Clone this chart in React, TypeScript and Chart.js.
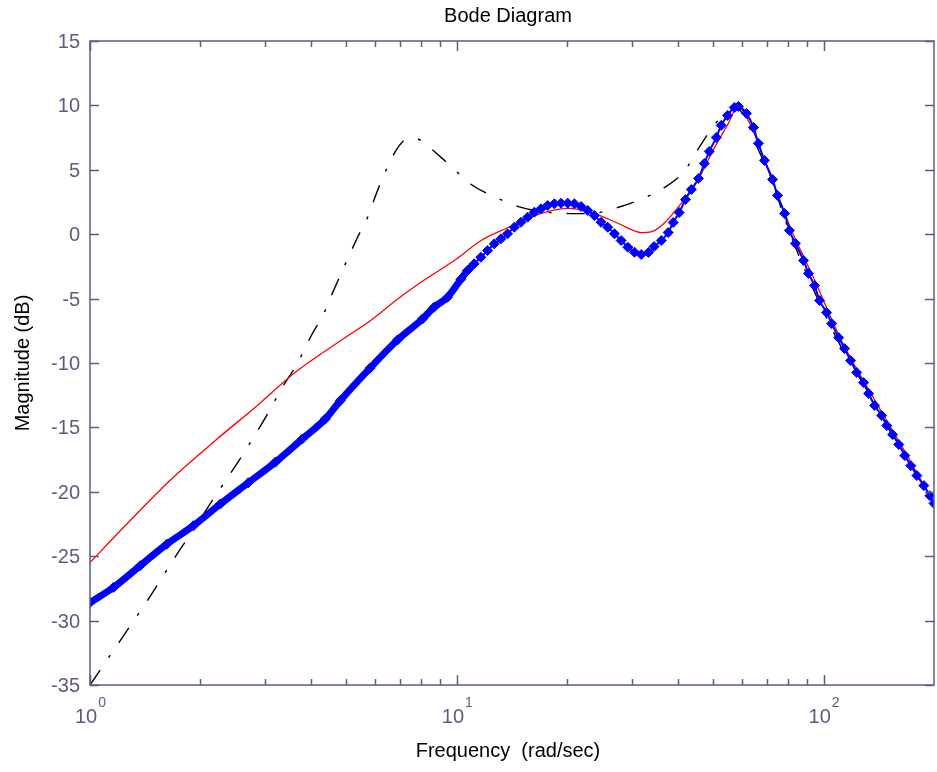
import React, { useEffect, useRef } from "react";
import { Chart, registerables } from "chart.js";

Chart.register(...registerables);

// ---------- text ----------
const TITLE = "Bode Diagram";
const X_LABEL = "Frequency  (rad/sec)";
const Y_LABEL = "Magnitude (dB)";

// ---------- axes ----------
const X_MIN = 1;
const X_MAX = 200;
const Y_MIN = -35;
const Y_MAX = 15;
const yTicks = [15, 10, 5, 0, -5, -10, -15, -20, -25, -30, -35];
const xMajorTicks = [1, 10, 100];
const xMajorBase = ["10", "10", "10"];
const xMajorExp = ["0", "1", "2"];
const xMinorTicks = [2, 3, 4, 5, 6, 7, 8, 9, 20, 30, 40, 50, 60, 70, 80, 90, 200];

// ---------- series: black dash-dot ----------
const blackW = [1, 1.26, 1.43, 1.73, 1.91, 2.13, 2.57, 3.1, 3.31, 3.68, 3.99, 4.33, 4.61, 5.36, 5.71, 6.08, 6.47, 6.9, 7.35, 7.8, 8.12, 9.45, 10.9, 12.9, 14.9, 17.7, 20.4, 23.2, 26.9, 31.1, 36.7, 41.7, 46.4, 51.5, 55, 57.6, 62, 66.5, 70.8, 78.6, 89, 110, 138, 166, 200];
const blackDb = [-35, -30.8, -28.5, -24.8, -23.0, -20.9, -17.4, -13.6, -12.1, -10.0, -8.0, -6.2, -4.4, -0.26, 1.3, 3.4, 5.2, 6.7, 7.4, 7.4, 7.1, 5.5, 3.9, 2.8, 2.1, 1.7, 1.6, 1.6, 2.0, 2.6, 3.6, 4.9, 7.0, 8.8, 9.4, 9.9, 8.6, 6.5, 4.9, 1.1, -2.8, -8.4, -13.1, -17.0, -20.9];

// ---------- series: red solid ----------
const redW = [1, 1.25, 1.654, 2.2, 2.86, 3.6, 4.82, 5.82, 7.0, 8.12, 10, 11.65, 13.8, 15.5, 17.3, 20.1, 23.7, 27.6, 31.9, 34, 36.7, 40.9, 45.4, 50.4, 55.0, 58.3, 63.6, 69, 75.4, 81.8, 94, 112, 138, 166, 200];
const redDb = [-25.5, -22.6, -19.1, -16.0, -13.3, -10.8, -8.27, -6.7, -4.9, -3.6, -1.9, -0.49, 0.52, 1.2, 1.68, 2.0, 1.6, 0.83, 0.13, 0.2, 0.83, 2.4, 4.2, 6.7, 8.6, 9.9, 8.3, 5.7, 2.85, 0.29, -3.4, -8.3, -12.9, -16.8, -20.9];

// ---------- series: blue markers ----------
const blueW = [1, 1.158, 1.37, 1.62, 1.915, 2.266, 2.7, 3.2, 3.79, 4.38, 4.82, 5.8, 6.9, 8.06, 8.67, 9.43, 10.26, 10.69, 11.15, 11.63, 12.13, 12.65, 13.19, 13.75, 14.35, 14.96, 15.6, 16.27, 16.96, 17.69, 18.45, 19.24, 20.06, 20.92, 21.82, 22.75, 23.72, 24.74, 25.8, 26.91, 28.06, 29.26, 30.51, 31.82, 33.3, 34.5, 36.1, 37.7, 38.9, 40.4, 42.0, 43.6, 45.6, 47.3, 48.8, 51.0, 52.6, 54.7, 57.1, 58.6, 61.6, 64.4, 66.4, 69.0, 72.6, 74.9, 78.3, 80.7, 83.8, 88.2, 91.0, 94.5, 97.5, 101.9, 105.2, 109.9, 114.1, 118.5, 123.1, 128.6, 132.7, 137.8, 144.0, 148.7, 154.3, 160.3, 166.5, 172.9, 179.6, 187.6, 194.9, 200];
const blueDb = [-28.6, -27.43, -25.74, -24.06, -22.63, -20.95, -19.3, -17.7, -15.9, -14.35, -12.9, -10.4, -8.2, -6.58, -5.67, -4.9, -3.5, -2.82, -2.3, -1.79, -1.27, -0.75, -0.36, 0.03, 0.54, 0.93, 1.32, 1.71, 1.97, 2.23, 2.36, 2.41, 2.41, 2.36, 2.15, 1.84, 1.45, 0.93, 0.54, 0.03, -0.49, -1.01, -1.4, -1.58, -1.42, -0.96, -0.49, 0.13, 0.91, 1.68, 2.69, 3.47, 4.33, 5.49, 6.43, 7.51, 8.45, 9.22, 9.84, 9.92, 9.38, 8.29, 7.05, 5.73, 4.25, 3.01, 1.61, 0.29, -0.72, -2.04, -3.05, -3.99, -5.15, -6.08, -6.94, -8.03, -8.88, -9.81, -10.74, -11.52, -12.37, -13.3, -14.08, -14.86, -15.56, -16.33, -17.19, -17.97, -18.74, -19.52, -20.3, -20.9];

const AXIS_COLOR = "rgb(92,92,130)";
const FONT = '"Liberation Sans", Arial, sans-serif';

const toPts = (w: number[], d: number[]) => w.map((x, i) => ({ x, y: d[i] }));

const framePlugin = {
  id: "matlabFrame",
  afterDraw(chart: any) {
    const { ctx, chartArea } = chart;
    const { left, right, top, bottom } = chartArea;
    const xs = chart.scales.x;
    const ys = chart.scales.y;
    ctx.save();
    ctx.strokeStyle = AXIS_COLOR;
    ctx.lineWidth = 1.5;
    ctx.strokeRect(left, top, right - left, bottom - top);

    // y ticks + labels
    ctx.fillStyle = AXIS_COLOR;
    ctx.font = `20px ${FONT}`;
    ctx.textAlign = "right";
    ctx.textBaseline = "middle";
    yTicks.forEach((v) => {
      const y = Math.round(ys.getPixelForValue(v)) + 0.5;
      ctx.beginPath();
      ctx.moveTo(left, y);
      ctx.lineTo(left + 9, y);
      ctx.moveTo(right, y);
      ctx.lineTo(right - 9, y);
      ctx.stroke();
      ctx.fillText(String(v), left - 10, y + 1);
    });

    // x ticks
    const drawXTick = (v: number, len: number) => {
      const x = Math.round(xs.getPixelForValue(v)) + 0.5;
      ctx.beginPath();
      ctx.moveTo(x, bottom);
      ctx.lineTo(x, bottom - len);
      ctx.moveTo(x, top);
      ctx.lineTo(x, top + len);
      ctx.stroke();
    };
    xMinorTicks.forEach((v) => { if (v < X_MAX) drawXTick(v, 6); });
    xMajorTicks.forEach((v) => drawXTick(v, 10));

    // x labels with superscript
    xMajorTicks.forEach((v, i) => {
      const x = xs.getPixelForValue(v);
      ctx.font = `20px ${FONT}`;
      const wb = ctx.measureText(xMajorBase[i]).width;
      ctx.font = `14px ${FONT}`;
      const we = ctx.measureText(xMajorExp[i]).width;
      const start = x - (wb + we) / 2;
      ctx.textAlign = "left";
      ctx.textBaseline = "alphabetic";
      ctx.font = `20px ${FONT}`;
      ctx.fillText(xMajorBase[i], start, 723);
      ctx.font = `14px ${FONT}`;
      ctx.fillText(xMajorExp[i], start + wb + 1, 707);
    });

    // titles
    ctx.fillStyle = "#000";
    ctx.font = `20px ${FONT}`;
    ctx.textAlign = "center";
    ctx.textBaseline = "alphabetic";
    const cx = (left + right) / 2 - 4;
    ctx.fillText(TITLE, cx, 22);
    ctx.fillText(X_LABEL, cx, 757);
    ctx.save();
    ctx.translate(29, (top + bottom) / 2);
    ctx.rotate(-Math.PI / 2);
    ctx.fillText(Y_LABEL, 0, 0);
    ctx.restore();
    ctx.restore();
  },
};

export default function App() {
  const ref = useRef<HTMLCanvasElement | null>(null);
  useEffect(() => {
    if (!ref.current) return;
    const chart = new Chart(ref.current, {
      type: "line",
      data: {
        datasets: [
          {
            label: "blue",
            data: toPts(blueW, blueDb),
            borderColor: "#0000ff",
            backgroundColor: "#0000ff",
            borderWidth: 2,
            segment: {
              borderWidth: (c: any) => (blueW[c.p0DataIndex] < 11 ? 7 : 2),
            },
            pointStyle: "rectRot",
            pointRadius: 5,
            pointBorderWidth: 1,
            pointBorderColor: "#0000ff",
            pointBackgroundColor: "#0000ff",
            cubicInterpolationMode: "monotone",
            order: 0,
          },
          {
            label: "red",
            data: toPts(redW, redDb),
            borderColor: "#ff0000",
            borderWidth: 1.3,
            pointRadius: 0,
            cubicInterpolationMode: "monotone",
            order: 1,
          },
          {
            label: "black",
            data: toPts(blackW, blackDb),
            borderColor: "#000000",
            borderWidth: 1.4,
            borderDash: [18, 15, 3, 15],
            pointRadius: 0,
            cubicInterpolationMode: "monotone",
            order: 2,
          },
        ],
      },
      options: {
        animation: false,
        responsive: false,
        devicePixelRatio: 1,
        parsing: false as any,
        layout: { autoPadding: false, padding: { left: 90, right: 3, top: 41, bottom: 87 } },
        plugins: {
          legend: { display: false },
          tooltip: { enabled: false },
          title: { display: false },
        },
        scales: {
          x: { type: "logarithmic", min: X_MIN, max: X_MAX, display: false },
          y: { type: "linear", min: Y_MIN, max: Y_MAX, display: false },
        },
      },
      plugins: [framePlugin],
    } as any);
    return () => chart.destroy();
  }, []);
  return (
    <div style={{ position: "absolute", left: 0, top: 0, width: 937, height: 772, background: "#fff" }}>
      <canvas ref={ref} width={937} height={772} style={{ width: 937, height: 772, display: "block" }} />
    </div>
  );
}
